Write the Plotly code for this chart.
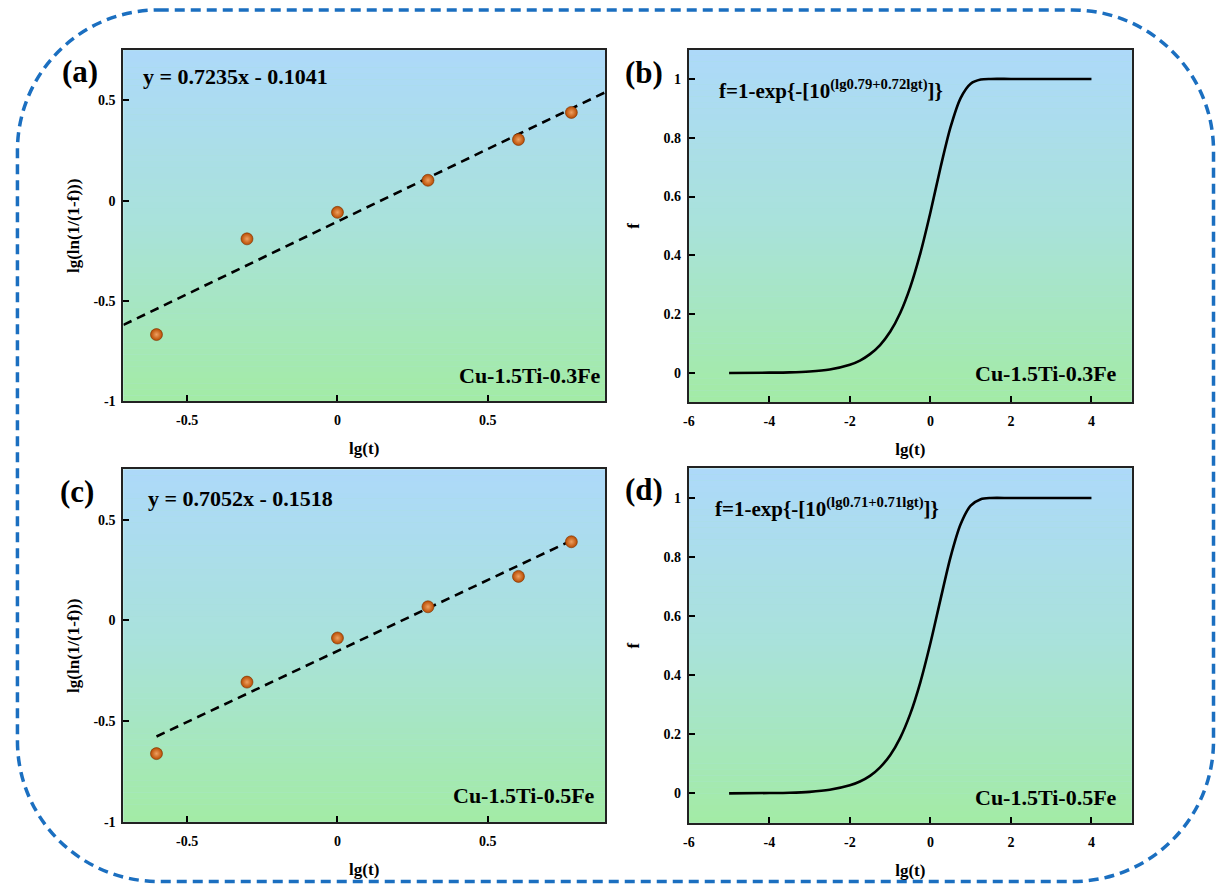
import plotly.graph_objects as go

# ---------------- data ----------------
lgt_pts = [-0.602, -0.301, 0.0, 0.301, 0.602, 0.778]
y_a = [-0.667, -0.190, -0.058, 0.102, 0.305, 0.440]
y_c = [-0.661, -0.306, -0.087, 0.068, 0.219, 0.391]

fit_a_x = [-0.712, 0.890]
fit_a_y = [-0.619, 0.540]
fit_c_x = [-0.602, 0.778]
fit_c_y = [-0.576, 0.397]

curve_x = [-5, -4, -3.5, -3, -2.5, -2, -1.75, -1.5, -1.25, -1, -0.75, -0.5, -0.25,
           0, 0.25, 0.5, 0.75, 1, 1.25, 1.5, 2, 3, 4]
f_b = [0.000, 0.001, 0.002, 0.005, 0.012, 0.028, 0.042, 0.064, 0.095, 0.140, 0.204,
       0.292, 0.407, 0.546, 0.698, 0.836, 0.935, 0.984, 0.998, 1.000, 1.000, 1.000, 1.000]
f_d = [0.000, 0.001, 0.002, 0.005, 0.012, 0.027, 0.040, 0.059, 0.088, 0.129, 0.188,
       0.269, 0.376, 0.508, 0.656, 0.800, 0.911, 0.974, 0.996, 1.000, 1.000, 1.000, 1.000]

eq_a = "y = 0.7235x - 0.1041"
eq_c = "y = 0.7052x - 0.1518"
eq_b = "f=1-exp{-[10<sup>(lg0.79+0.72lgt)</sup>]}"
eq_d = "f=1-exp{-[10<sup>(lg0.71+0.71lgt)</sup>]}"
alloy_top = "Cu-1.5Ti-0.3Fe"
alloy_bot = "Cu-1.5Ti-0.5Fe"
panel_labels = ["(a)", "(b)", "(c)", "(d)"]

lin_xticks = [-0.5, 0, 0.5]
lin_xtext = ["-0.5", "0", "0.5"]
lin_yticks = [-1, -0.5, 0, 0.5]
lin_ytext = ["-1", "-0.5", "0", "0.5"]
f_xticks = [-6, -4, -2, 0, 2, 4]
f_xtext = ["-6", "-4", "-2", "0", "2", "4"]
f_yticks = [0, 0.2, 0.4, 0.6, 0.8, 1]
f_ytext = ["0", "0.2", "0.4", "0.6", "0.8", "1"]

# ---------------- layout helpers ----------------
W, H = 1217, 893
FONT = "Liberation Serif"


def px(x):
    return x / W


def py(y):
    return 1 - y / H


dom = {
    "a": ([px(118), px(602)], [py(405), py(50.7)]),
    "b": ([px(686.2), px(1131.3)], [py(406), py(50)]),
    "c": ([px(118), px(602)], [py(829.3), py(473.7)]),
    "d": ([px(686.2), px(1131.3)], [py(830.3), py(472.7)]),
}

fig = go.Figure()

marker_style = dict(size=12, color="#b84a00",
                    gradient=dict(type="radial", color="#eea060"),
                    line=dict(color="#7a3000", width=0.6))

fig.add_trace(go.Scatter(x=fit_a_x, y=fit_a_y, mode="lines", xaxis="x", yaxis="y",
                         line=dict(color="black", width=2.6, dash="9px,6px"), showlegend=False))
fig.add_trace(go.Scatter(x=lgt_pts, y=y_a, mode="markers", xaxis="x", yaxis="y",
                         marker=marker_style, showlegend=False))
fig.add_trace(go.Scatter(x=curve_x, y=f_b, mode="lines", xaxis="x2", yaxis="y2",
                         line=dict(color="black", width=2.6, shape="spline", smoothing=0.8),
                         showlegend=False))
fig.add_trace(go.Scatter(x=fit_c_x, y=fit_c_y, mode="lines", xaxis="x3", yaxis="y3",
                         line=dict(color="black", width=2.6, dash="9px,6px"), showlegend=False))
fig.add_trace(go.Scatter(x=lgt_pts, y=y_c, mode="markers", xaxis="x3", yaxis="y3",
                         marker=marker_style, showlegend=False))
fig.add_trace(go.Scatter(x=curve_x, y=f_d, mode="lines", xaxis="x4", yaxis="y4",
                         line=dict(color="black", width=2.6, shape="spline", smoothing=0.8),
                         showlegend=False))

tickfont = dict(family=FONT, size=14, color="black", weight="bold")
titlefont = dict(family=FONT, size=17, color="black", weight="bold")


def xaxis(domain, anchor, rng, tv, tt):
    return dict(domain=domain, anchor=anchor, range=rng, tickvals=tv, ticktext=tt,
                ticks="inside", ticklen=6, tickwidth=1.5, tickcolor="black",
                showline=True, linecolor="#222", linewidth=2, mirror=True,
                showgrid=False, zeroline=False, tickfont=tickfont, ticklabelstandoff=5,
                title=dict(text="lg(t)", font=titlefont, standoff=15))


def yaxis(domain, anchor, rng, tv, tt, title, standoff):
    return dict(domain=domain, anchor=anchor, range=rng, tickvals=tv, ticktext=tt,
                ticks="inside", ticklen=6, tickwidth=1.5, tickcolor="black",
                showline=True, linecolor="#222", linewidth=2, mirror=True,
                showgrid=False, zeroline=False, tickfont=tickfont, ticklabelstandoff=3,
                title=dict(text=title, font=titlefont, standoff=standoff))


fig.update_layout(
    width=W, height=H, margin=dict(l=0, r=0, t=0, b=0),
    paper_bgcolor="white", plot_bgcolor="#a8e2d6",
    xaxis=xaxis(dom["a"][0], "y", [-0.712, 0.89], lin_xticks, lin_xtext),
    yaxis=yaxis(dom["a"][1], "x", [-1, 0.75], lin_yticks, lin_ytext, "lg(ln(1/(1-f)))", 9),
    xaxis2=xaxis(dom["b"][0], "y2", [-6, 5], f_xticks, f_xtext),
    yaxis2=yaxis(dom["b"][1], "x2", [-0.1, 1.1], f_yticks, f_ytext, "f", 20),
    xaxis3=xaxis(dom["c"][0], "y3", [-0.712, 0.89], lin_xticks, lin_xtext),
    yaxis3=yaxis(dom["c"][1], "x3", [-1, 0.75], lin_yticks, lin_ytext, "lg(ln(1/(1-f)))", 9),
    xaxis4=xaxis(dom["d"][0], "y4", [-6, 5], f_xticks, f_xtext),
    yaxis4=yaxis(dom["d"][1], "x4", [-0.1, 1.1], f_yticks, f_ytext, "f", 20),
)

# gradient backgrounds (stripes)
top_c = (173, 217, 250)
mid_c = (169, 226, 218)
bot_c = (163, 235, 165)


def grad(t):
    # t = 0 bottom, 1 top
    if t >= 0.5:
        s = (t - 0.5) / 0.5
        c = [mid_c[i] + (top_c[i] - mid_c[i]) * s for i in range(3)]
    else:
        s = t / 0.5
        c = [bot_c[i] + (mid_c[i] - bot_c[i]) * s for i in range(3)]
    return "rgb(%d,%d,%d)" % tuple(round(v) for v in c)


shapes = []
N = 60
for k in ["", "2", "3", "4"]:
    for i in range(N):
        shapes.append(dict(type="rect", xref="x%s domain" % k, yref="y%s domain" % k,
                           x0=0, x1=1, y0=i / N, y1=min(1, (i + 1.02) / N),
                           fillcolor=grad((i + 0.5) / N), line=dict(width=0), layer="below"))

# rounded dashed frame
L, R, T, B, r = 11.5, 1213.5, 10, 889.5, 142
k = 0.5523 * r
pts = [
    ("M", [(L + r, T)]),
    ("L", [(R - r, T)]),
    ("C", [(R - r + k, T), (R, T + r - k), (R, T + r)]),
    ("L", [(R, B - r)]),
    ("C", [(R, B - r + k), (R - r + k, B), (R - r, B)]),
    ("L", [(L + r, B)]),
    ("C", [(L + r - k, B), (L, B - r + k), (L, B - r)]),
    ("L", [(L, T + r)]),
    ("C", [(L, T + r - k), (L + r - k, T), (L + r, T)]),
]
path = ""
for cmd, ps in pts:
    path += cmd + " " + " ".join("%.5f,%.5f" % (px(a), py(b)) for a, b in ps) + " "
path += "Z"
shapes.append(dict(type="path", xref="paper", yref="paper", path=path,
                   line=dict(color="#1b6fc0", width=3.5, dash="10px,6px")))
fig.update_layout(shapes=shapes)

ann = []
lab_font = dict(family=FONT, size=31, color="black", weight="bold")
for txt, (x, y) in zip(panel_labels, [(74, 72), (641, 73), (71, 496), (641, 494)]):
    ann.append(dict(text=txt, x=px(x), y=py(y), xref="paper", yref="paper",
                    showarrow=False, font=lab_font, xanchor="center", yanchor="middle"))

eq_font = dict(family=FONT, size=22, color="black", weight="bold")
for txt, (x, y) in [(eq_a, (136, 77)), (eq_c, (141, 503))]:
    ann.append(dict(text=txt, x=px(x), y=py(y), xref="paper", yref="paper",
                    showarrow=False, font=eq_font, xanchor="left", yanchor="middle"))
feq_font = dict(family=FONT, size=21, color="black", weight="bold")
for txt, (x, y) in [(eq_b, (715, 90)), (eq_d, (711, 512))]:
    ann.append(dict(text=txt, x=px(x), y=py(y), xref="paper", yref="paper",
                    showarrow=False, font=feq_font, xanchor="left", yanchor="middle"))

al_font = dict(family=FONT, size=22, color="black", weight="bold")
for txt, (x, y) in [(alloy_top, (600, 379)), (alloy_top, (1119, 377)),
                    (alloy_bot, (594, 803)), (alloy_bot, (1119, 805))]:
    ann.append(dict(text=txt, x=px(x), y=py(y), xref="paper", yref="paper",
                    showarrow=False, font=al_font, xanchor="right", yanchor="middle"))
fig.update_layout(annotations=ann)

fig.write_html("out.html")
